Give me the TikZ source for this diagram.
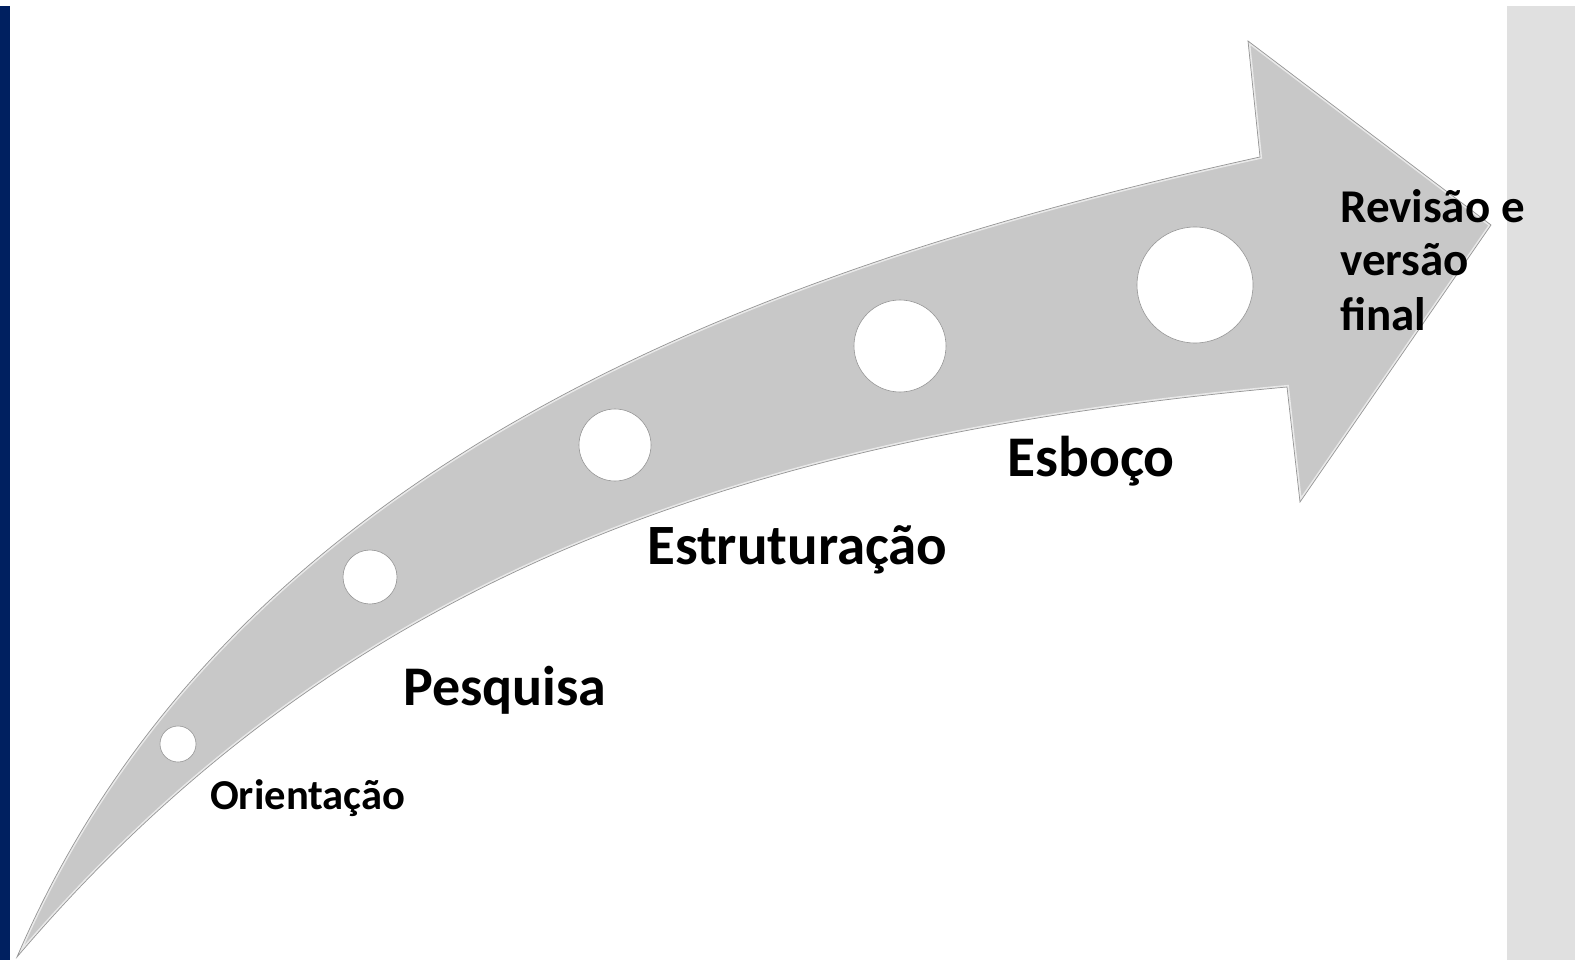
\documentclass[tikz,border=0pt]{standalone}
\usepackage{fontspec}
\setmainfont{Carlito}
\definecolor{navy}{RGB}{0,32,96}
\definecolor{sidegray}{RGB}{224,224,224}
\definecolor{bandgray}{RGB}{200,200,200}
\definecolor{edgegray}{RGB}{150,150,150}
\newcommand\myarrowshape[1]{%
  \path[#1] (17,957) .. controls (226,470) and (742,271) .. (1260,157)
    -- (1248,41) -- (1491,225) -- (1300,502) -- (1287,387)
    .. controls (740,436.5) and (341,576.5) .. (17,957)
    -- cycle;}
\tikzset{
  stage/.style={anchor=base west, inner sep=0pt, text=black},
  hole/.style={circle, fill=white, draw=edgegray, line width=0.6pt, inner sep=0pt},
}
\begin{document}
\begin{tikzpicture}[x=1pt,y=-1pt]
\useasboundingbox (0,0) rectangle (1580,960);
\fill[white] (0,0) rectangle (1580,960);
% side bars
\fill[navy] (0,6) rectangle (10,960);
\fill[sidegray] (1507,6) rectangle (1575,960);
% arrow
\begin{scope}
  \myarrowshape{clip}
  \myarrowshape{fill=bandgray}
  \myarrowshape{draw=white, draw opacity=0.6, line width=4pt}
\end{scope}
\myarrowshape{draw=edgegray, line width=0.7pt}
% holes
\node[hole, minimum size=36pt] (c1) at (178,744) {};
\node[hole, minimum size=54pt] (c2) at (370,577) {};
\node[hole, minimum size=72pt] (c3) at (615,445) {};
\node[hole, minimum size=92pt] (c4) at (900,346) {};
\node[hole, minimum size=116pt] (c5) at (1195,285) {};
% labels
\node[stage, font=\bfseries\fontsize{42.6pt}{50pt}\selectfont] (l1) at (210,809) {Orientação};
\node[stage, font=\bfseries\fontsize{56pt}{66pt}\selectfont] (l2) at (403,705) {Pesquisa};
\node[stage, font=\bfseries\fontsize{57pt}{68pt}\selectfont] (l3) at (647,564) {Estruturação};
\node[stage, font=\bfseries\fontsize{57.5pt}{68pt}\selectfont] (l4) at (1007,476) {Esboço};
\node[stage, font=\bfseries\fontsize{47pt}{56pt}\selectfont] (l5a) at (1340,223) {Revisão e};
\node[stage, font=\bfseries\fontsize{47pt}{56pt}\selectfont] (l5b) at (1340,276) {versão};
\node[stage, font=\bfseries\fontsize{47pt}{56pt}\selectfont] (l5c) at (1340,330) {final};
\end{tikzpicture}
\end{document}
